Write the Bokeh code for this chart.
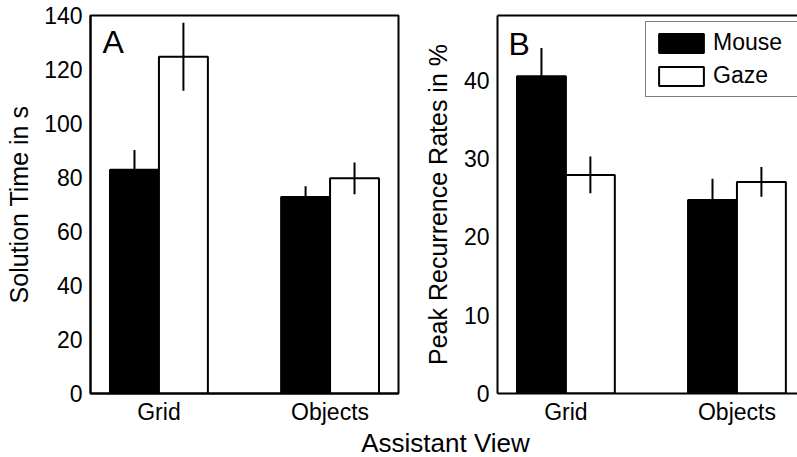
from bokeh.plotting import figure
from bokeh.models import Range1d, FixedTicker, LinearAxis, Label, Legend, LegendItem
from bokeh.layouts import row, column
from bokeh.embed import file_html
from bokeh.resources import INLINE

# ---------------- data ----------------
categories = ["Grid", "Objects"]
cat_pos = [1, 2]
series_names = ["Mouse", "Gaze"]

time_mouse = [82.9, 72.8]
time_mouse_err = [7.3, 4.0]
time_gaze = [124.7, 79.7]
time_gaze_err = [12.6, 5.9]

rec_mouse = [40.5, 24.7]
rec_mouse_err = [3.6, 2.7]
rec_gaze = [27.9, 27.0]
rec_gaze_err = [2.35, 1.9]

time_ticks = [0, 20, 40, 60, 80, 100, 120, 140]
rec_ticks = [0, 10, 20, 30, 40]

# ---------------- style ----------------
FONT = "Liberation Sans"
BAR_W = 0.286
OFFSET = 0.143
TICK_FS = "23px"
YLAB_FS = "25px"


def style_axes(p, yticks, ylabel, label_standoff):
    p.xgrid.visible = False
    p.ygrid.visible = False
    xa = p.xaxis[0]
    xa.ticker = FixedTicker(ticks=cat_pos)
    xa.major_label_overrides = {c: n for c, n in zip(cat_pos, categories)}
    xa.major_label_text_font = FONT
    xa.major_label_text_font_size = TICK_FS
    xa.major_label_text_color = "black"
    xa.major_label_standoff = 5
    xa.major_tick_in = 0
    xa.major_tick_out = 0
    xa.minor_tick_in = 0
    xa.minor_tick_out = 0
    xa.axis_line_width = 2
    xa.axis_line_color = "black"

    ya = p.yaxis[0]
    ya.ticker = FixedTicker(ticks=yticks)
    ya.major_label_text_font = FONT
    ya.major_label_text_font_size = TICK_FS
    ya.major_label_text_color = "black"
    ya.major_label_standoff = 8
    ya.major_tick_in = 0
    ya.major_tick_out = 0
    ya.minor_tick_in = 0
    ya.minor_tick_out = 0
    ya.axis_line_width = 2
    ya.axis_line_color = "black"
    ya.axis_label = ylabel
    ya.axis_label_text_font = FONT
    ya.axis_label_text_font_size = YLAB_FS
    ya.axis_label_text_font_style = "normal"
    ya.axis_label_text_color = "black"
    ya.axis_label_standoff = label_standoff


def draw_bars(p, mouse, mouse_err, gaze, gaze_err):
    xm = [c - OFFSET for c in cat_pos]
    xg = [c + OFFSET for c in cat_pos]
    rm = p.vbar(x=xm, top=mouse, bottom=0, width=BAR_W, fill_color="black",
                line_color="black", line_width=2)
    rg = p.vbar(x=xg, top=gaze, bottom=0, width=BAR_W, fill_color="white",
                line_color="black", line_width=2)
    p.segment(x0=xm, x1=xm,
              y0=[v - e for v, e in zip(mouse, mouse_err)],
              y1=[v + e for v, e in zip(mouse, mouse_err)],
              line_color="black", line_width=2)
    p.segment(x0=xg, x1=xg,
              y0=[v - e for v, e in zip(gaze, gaze_err)],
              y1=[v + e for v, e in zip(gaze, gaze_err)],
              line_color="black", line_width=2)
    return rm, rg


# ---------------- panel A ----------------
pA = figure(width=400, height=427, x_range=Range1d(0.6, 2.4), y_range=Range1d(0, 140),
            min_border_left=90, min_border_right=2, min_border_top=15, min_border_bottom=31,
            toolbar_location=None, output_backend="svg",
            outline_line_color="black", outline_line_width=2,
            background_fill_color="white", border_fill_color="white")
style_axes(pA, time_ticks, "Solution Time in s", 8)
draw_bars(pA, time_mouse, time_mouse_err, time_gaze, time_gaze_err)
pA.add_layout(Label(x=0.67, y=130.2, text="A", text_font=FONT, text_font_size="32px",
                    text_color="black", text_baseline="middle"))

# ---------------- panel B ----------------
pB = figure(width=397, height=427, x_range=Range1d(0.6, 2.354), y_range=Range1d(0, 48.25),
            min_border_left=97, min_border_right=0, min_border_top=15, min_border_bottom=30,
            toolbar_location=None, output_backend="svg",
            outline_line_color=None,
            background_fill_color="white", border_fill_color="white")
style_axes(pB, rec_ticks, "Peak Recurrence Rates in %", 9)
rm, rg = draw_bars(pB, rec_mouse, rec_mouse_err, rec_gaze, rec_gaze_err)
top_axis = LinearAxis(ticker=FixedTicker(ticks=[]), axis_line_width=2, axis_line_color="black",
                      major_label_text_font_size="0px", major_label_standoff=0,
                      major_tick_in=0, major_tick_out=0, minor_tick_in=0, minor_tick_out=0)
pB.add_layout(top_axis, "above")
pB.add_layout(Label(x=0.664, y=44.6, text="B", text_font=FONT, text_font_size="32px",
                    text_color="black", text_baseline="middle"))

legend = Legend(items=[LegendItem(label=series_names[0], renderers=[rm]),
                       LegendItem(label=series_names[1], renderers=[rg])],
                location=(148, 296), glyph_width=56, glyph_height=24,
                label_text_font=FONT, label_text_font_size="23px", label_text_color="black",
                padding=7, spacing=6, label_standoff=4, label_width=95,
                border_line_color="black", border_line_width=1,
                background_fill_color="white", background_fill_alpha=1.0, margin=0)
pB.add_layout(legend)

# ---------------- shared x label ----------------
pX = figure(width=797, height=30, x_range=Range1d(0, 797), y_range=Range1d(0, 30),
            title=None, min_border=0, x_axis_location=None, y_axis_location=None,
            toolbar_location=None, output_backend="svg", outline_line_color=None,
            background_fill_color="white", border_fill_color="white")
pX.grid.visible = False
pX.add_layout(Label(x=445, y=15, text="Assistant View", text_align="center",
                    text_baseline="middle", text_font=FONT, text_font_size="26px",
                    text_color="black"))

layout = column(row(pA, pB), pX)
open("out.html", "w").write(file_html(layout, INLINE))
